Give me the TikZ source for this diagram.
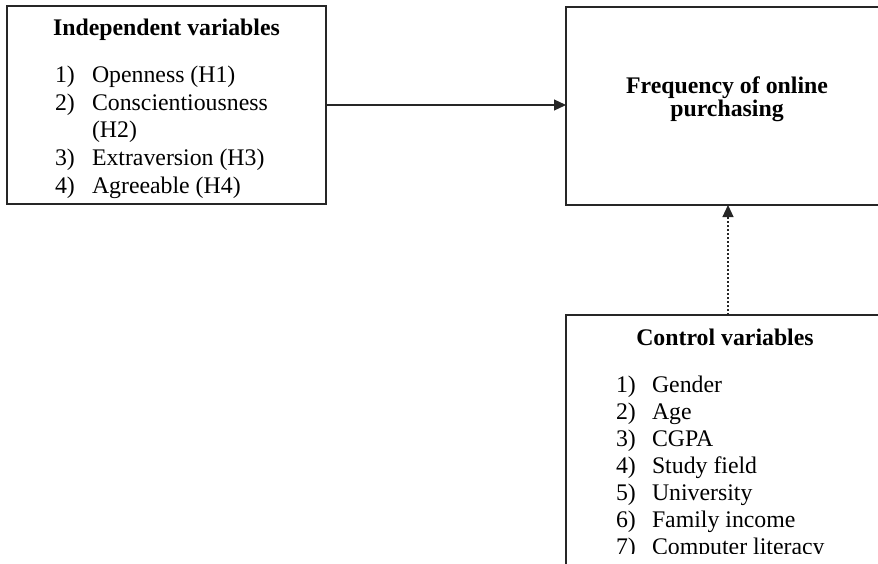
\documentclass[tikz,border=0pt]{standalone}
\usepackage{fontspec}
\setmainfont{Liberation Serif}
\usetikzlibrary{arrows.meta,calc}
\begin{document}
\begin{tikzpicture}[x=1pt,y=-1pt,
  boxnode/.style={draw=black!85,line width=1.3pt,inner sep=0pt,outer sep=0pt,rectangle},
  txt/.style={inner sep=0pt,outer sep=0pt,font=\fontsize{23.8}{27.4}\selectfont},
  ttl/.style={txt,font=\fontsize{23.8}{27.4}\selectfont\bfseries,anchor=base},
  num/.style={txt,anchor=base west},
  itm/.style={txt,anchor=base west},
  conn/.style={line width=1.2pt,draw=black!85,-{Triangle[length=12pt,width=11pt]}},
  dconn/.style={conn,dash pattern=on 2.5pt off 1.5pt}
]
\useasboundingbox (0,0) rectangle (878,563);
\clip (0,0) rectangle (878,563);

% boxes
\node[boxnode,minimum width=319pt,minimum height=198pt] (ind) at (166.5,105) {};
\node[boxnode,minimum width=318pt,minimum height=198pt] (freq) at (725,106) {};
\node[boxnode,minimum width=318pt,minimum height=305pt] (ctrl) at (725,467.5) {};

% independent variables text
\node[ttl] (indt) at (166.5,35) {Independent variables};
\node[num] (in1) at (55,82.5) {1)};
\node[itm] (it1) at (92,82.5) {Openness (H1)};
\node[num] (in2) at (55,110.2) {2)};
\node[itm] (it2) at (92,110.2) {Conscientiousness};
\node[itm] (it2b) at (92,137.9) {(H2)};
\node[num] (in3) at (55,165.6) {3)};
\node[itm] (it3) at (92,165.6) {Extraversion (H3)};
\node[num] (in4) at (55,193.3) {4)};
\node[itm] (it4) at (92,193.3) {Agreeable (H4)};

% dependent variable text
\node[ttl] (ft1) at (727,93.3) {Frequency of online};
\node[ttl] (ft2) at (727,116.8) {purchasing};

% control variables text
\node[ttl] (ctt) at (725,345) {Control variables};
\begin{scope}
\clip (566,300) rectangle (884,553);
\node[num] (cn1) at (616,392.5) {1)};
\node[itm] (ci1) at (652,392.5) {Gender};
\node[num] (cn2) at (616,419.5) {2)};
\node[itm] (ci2) at (652,419.5) {Age};
\node[num] (cn3) at (616,446.5) {3)};
\node[itm] (ci3) at (652,446.5) {CGPA};
\node[num] (cn4) at (616,473.5) {4)};
\node[itm] (ci4) at (652,473.5) {Study field};
\node[num] (cn5) at (616,500.5) {5)};
\node[itm] (ci5) at (652,500.5) {University};
\node[num] (cn6) at (616,527.5) {6)};
\node[itm] (ci6) at (652,527.5) {Family income};
\node[num] (cn7) at (616,554.5) {7)};
\node[itm] (ci7) at (652,554.5) {Computer literacy};
\end{scope}

% connectors
\draw[conn] (ind.east) -- (ind.east -| freq.west);
\draw[dconn] ($(ctrl.north)+(3,0)$) -- ($(freq.south)+(3,0)$);
\end{tikzpicture}
\end{document}
